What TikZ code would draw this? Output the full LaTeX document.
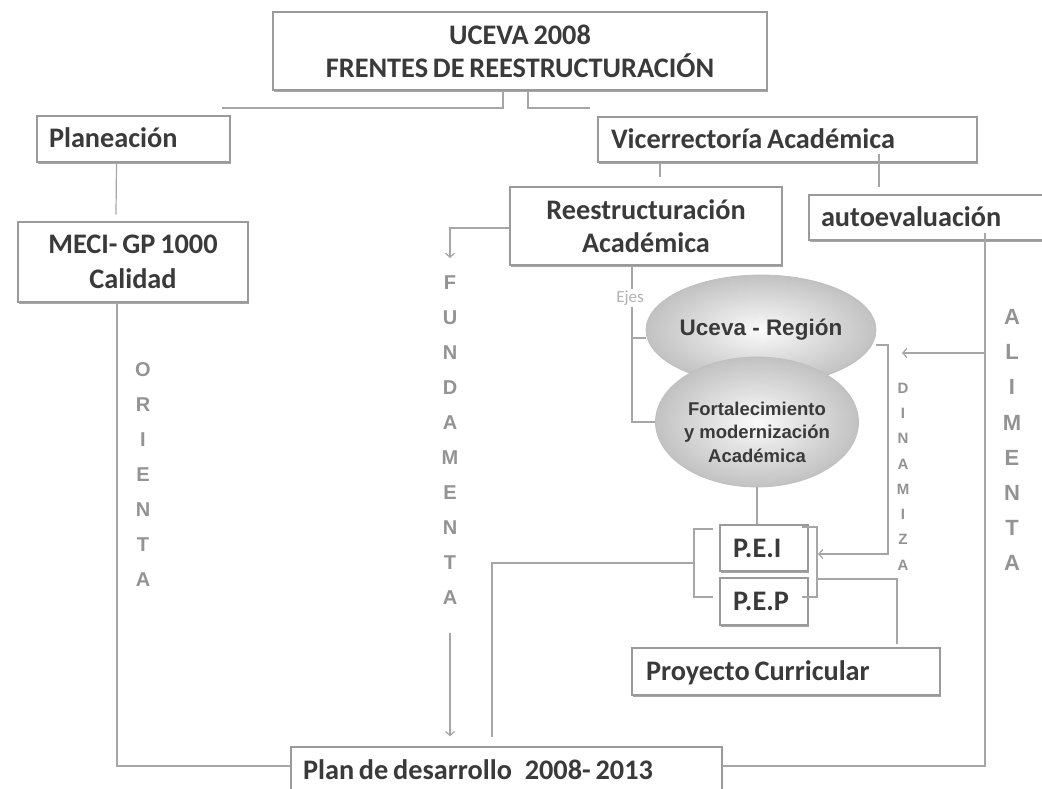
\documentclass[tikz,border=0pt]{standalone}
\usepackage{fontspec}
\setmainfont{Carlito}[WordSpace=0.75]
\newfontfamily\arialf{Liberation Sans}
\usetikzlibrary{shapes.geometric,arrows.meta,shadows}
\definecolor{boxc}{HTML}{9A9A9A}
\definecolor{txtc}{HTML}{3A3A3A}
\definecolor{linec}{HTML}{A6A6A6}
\definecolor{letc}{HTML}{939393}
\newcommand{\lt}[2]{\makebox[#1][l]{#2}}
\begin{document}
\begin{tikzpicture}[x=1pt,y=-1pt,
  rbox/.style={draw=boxc, line width=1.4pt, fill=white, text=txtc,
    font=\bfseries\fontsize{28.3}{33}\selectfont, inner sep=0pt,
    drop shadow={shadow xshift=0.5pt, shadow yshift=-2pt, fill=black, opacity=0.35}},
  lbox/.style={rbox, text height=18pt, text depth=0pt},
  bubble/.style={ellipse, draw=gray!50, line width=0.8pt, shading=radial,
    inner color=gray!4, outer color=gray!48, text=txtc, inner sep=0pt},
  conn/.style={draw=linec, line width=1.2pt},
  tip/.style={-{Straight Barb[length=4pt,width=9pt]}},
  vlet/.style={text=letc, align=center, inner sep=0pt},
]
\clip (0,0) rectangle (1042,789);
\fill[white] (0,0) rectangle (1042,789);

% boxes
\node[rbox, align=center, minimum width=494pt, minimum height=78pt] (top) at (520,51)
  {UCEVA 2008\\FRENTES DE REESTRUCTURACIÓN};
\node[lbox, inner xsep=12pt, minimum height=46pt] (plan) at (133.5,139) {\lt{169pt}{Planeación}};
\node[lbox, inner xsep=13pt, minimum height=45pt] (vice) at (787.5,139.5) {\lt{353pt}{Vicerrectoría Académica}};
\node[rbox, align=center, minimum width=230pt, minimum height=80pt,
  font=\bfseries\fontsize{28.3}{35}\selectfont] (meci) at (133,262) {MECI- GP 1000\\Calidad};
\node[rbox, align=center, minimum width=272pt, minimum height=78pt] (reest) at (646,226)
  {Reestructuración\\Académica};
\node[lbox, inner xsep=12pt, minimum height=45pt] (auto) at (929.5,217.5) {\lt{217pt}{autoevaluación}};
\node[lbox, inner xsep=13pt, minimum height=46pt] (pei) at (764,548) {\lt{62pt}{P.E.I}};
\node[lbox, inner xsep=13pt, minimum height=47pt] (pep) at (764,601.5) {\lt{62pt}{P.E.P}};
\node[lbox, inner xsep=14pt, minimum height=47pt] (proy) at (786,671.5) {\lt{280pt}{Proyecto Curricular}};
\node[lbox, inner xsep=12pt, minimum height=46pt] (pland) at (506.5,770)
  {\lt{407pt}{Plan de desarrollo\hspace{0.45em}2008- 2013}};

% ellipses
\node[bubble, minimum width=198pt, minimum height=110pt,
  font=\arialf\bfseries\fontsize{22.5}{26}\selectfont] (uceva) at (761,330) {Uceva - Región};
\node[bubble, minimum width=203pt, minimum height=130pt] (fort) at (757,422) {};
\node[text=txtc, align=center, inner sep=0pt,
  font=\arialf\bfseries\fontsize{18.5}{23.5}\selectfont] (fortt) at (757,432)
  {Fortalecimiento\\y modernización\\Académica};

\node[font=\fontsize{17}{20}\selectfont, text=gray!60, inner sep=1pt] (ejes) at (630,298) {Ejes};

% vertical words
\node[vlet, font=\arialf\bfseries\fontsize{20}{35}\selectfont] (orienta) at (143,475) {O\\R\\I\\E\\N\\T\\A};
\node[vlet, font=\arialf\bfseries\fontsize{20}{35}\selectfont] (fundamenta) at (450,440) {F\\U\\N\\D\\A\\M\\E\\N\\T\\A};
\node[vlet, font=\arialf\bfseries\fontsize{15}{25.3}\selectfont] (dinamiza) at (903,476.5) {D\\I\\N\\A\\M\\I\\Z\\A};
\node[vlet, font=\arialf\bfseries\fontsize{22}{35.1}\selectfont] (alimenta) at (1012,440) {A\\L\\I\\M\\E\\N\\T\\A};

% free-end coordinates
\coordinate (tl) at (222,108);
\coordinate (tr) at (590,108);
\coordinate (fa1) at (450,258);
\coordinate (fa2) at (450,633);
\coordinate (aj) at (985,353);
\coordinate (atip) at (902,353);
\coordinate (ub) at ([yshift=-8pt]uceva.west);
\coordinate (ue) at ([yshift=-15pt]uceva.east);
\coordinate (dcor) at (888,554);
\coordinate (brm) at (818,554);
\coordinate (bl1) at (713,529);
\coordinate (blc1) at (694,529);
\coordinate (blm) at (694,563);
\coordinate (blc2) at (694,597);
\coordinate (bl2) at (713,597);
\coordinate (br1) at (802,527);
\coordinate (brc1) at (817,527);
\coordinate (bprj) at (817,579);
\coordinate (brc2) at (817,597);
\coordinate (br2) at (802,597);

% connectors
\draw[conn] ([xshift=-17pt]top.south) |- (tl);
\draw[conn] ([xshift=8pt]top.south) |- (tr);
\draw[conn] ([xshift=-17pt]plan.south) -- ([xshift=-17pt,yshift=7pt]meci.north);
\draw[conn] ([xshift=-16pt]meci.south) |- ([yshift=4pt]pland.west);
\draw[conn] ([xshift=-127.5pt]vice.south) -- ([xshift=14pt,yshift=9pt]reest.north);
\draw[conn] ([xshift=91.5pt,yshift=9pt]vice.south) -- ([xshift=-50.5pt,yshift=7pt]auto.north);
\draw[conn] ([xshift=55.5pt,yshift=8pt]auto.south) |- ([yshift=4pt]pland.east);
\draw[conn,tip] (aj) -- (atip);
\draw[conn,tip] ([yshift=-2pt]reest.west) -| (fa1);
\draw[conn,tip] (fa2) -- ([xshift=-56.5pt,yshift=10pt]pland.north);
\draw[conn] ([xshift=-14pt]reest.south) -- ([xshift=2pt]ejes.north);
\draw[conn] ([xshift=2pt]ejes.south) |- (fort.west);
\draw[conn] ([xshift=2pt]ejes.south |- ub) -- (ub);
\draw[conn] (fort.south) -- (fort.south |- pei.north);
\draw[conn] (bl1) -- (blc1) -- (blc2) -- (bl2);
\draw[conn] (br1) -- (brc1) -- (brc2) -- (br2);
\draw[conn] (blm) -| ([xshift=-14.5pt,yshift=9pt]pland.north);
\draw[conn,tip] (ue) -| (dcor) -- (brm);
\draw[conn] (bprj) -| ([xshift=111pt,yshift=3pt]proy.north);
\end{tikzpicture}
\end{document}
